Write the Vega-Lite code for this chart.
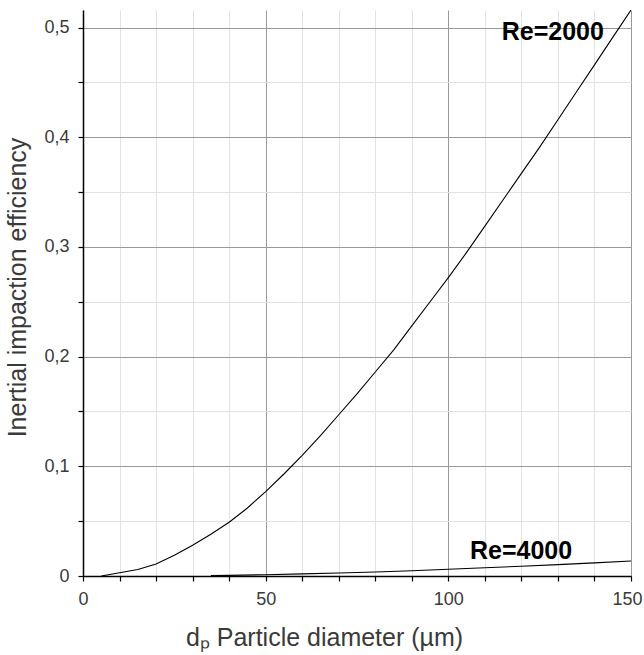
{
  "$schema": "https://vega.github.io/schema/vega-lite/v6.json",
  "autosize": {"type": "none"},
  "width": 548,
  "height": 566,
  "padding": {"left": 83, "top": 10, "right": 13, "bottom": 79},
  "background": "white",
  "config": {
    "view": {"stroke": null},
    "axis": {
      "domainColor": "#000",
      "domainWidth": 1.5,
      "tickColor": "#000",
      "tickSize": 5,
      "tickWidth": 1.2,
      "labelFont": "Liberation Sans",
      "labelFontSize": 18,
      "labelColor": "#3a3a3a",
      "labelOverlap": false,
      "titleFont": "Liberation Sans",
      "titleFontWeight": "normal",
      "titleColor": "#3a3a3a",
      "gridWidth": 1
    }
  },
  "datasets": {
    "curves": [
      {"series": "Re=2000", "d": 5, "eff": 0.0},
      {"series": "Re=2000", "d": 10, "eff": 0.003},
      {"series": "Re=2000", "d": 15, "eff": 0.006},
      {"series": "Re=2000", "d": 20, "eff": 0.011},
      {"series": "Re=2000", "d": 25, "eff": 0.019},
      {"series": "Re=2000", "d": 30, "eff": 0.028},
      {"series": "Re=2000", "d": 35, "eff": 0.038},
      {"series": "Re=2000", "d": 40, "eff": 0.049},
      {"series": "Re=2000", "d": 45, "eff": 0.062},
      {"series": "Re=2000", "d": 50, "eff": 0.077},
      {"series": "Re=2000", "d": 55, "eff": 0.093},
      {"series": "Re=2000", "d": 60, "eff": 0.11},
      {"series": "Re=2000", "d": 65, "eff": 0.128},
      {"series": "Re=2000", "d": 70, "eff": 0.147},
      {"series": "Re=2000", "d": 75, "eff": 0.166},
      {"series": "Re=2000", "d": 80, "eff": 0.186},
      {"series": "Re=2000", "d": 85, "eff": 0.206},
      {"series": "Re=2000", "d": 90, "eff": 0.228},
      {"series": "Re=2000", "d": 95, "eff": 0.25},
      {"series": "Re=2000", "d": 100, "eff": 0.272},
      {"series": "Re=2000", "d": 105, "eff": 0.295},
      {"series": "Re=2000", "d": 110, "eff": 0.319},
      {"series": "Re=2000", "d": 115, "eff": 0.343},
      {"series": "Re=2000", "d": 120, "eff": 0.367},
      {"series": "Re=2000", "d": 125, "eff": 0.391},
      {"series": "Re=2000", "d": 130, "eff": 0.416},
      {"series": "Re=2000", "d": 135, "eff": 0.441},
      {"series": "Re=2000", "d": 140, "eff": 0.466},
      {"series": "Re=2000", "d": 145, "eff": 0.491},
      {"series": "Re=2000", "d": 150, "eff": 0.516},
      {"series": "Re=4000", "d": 35, "eff": 0.0003},
      {"series": "Re=4000", "d": 40, "eff": 0.0006},
      {"series": "Re=4000", "d": 50, "eff": 0.0012},
      {"series": "Re=4000", "d": 60, "eff": 0.0019},
      {"series": "Re=4000", "d": 70, "eff": 0.0027},
      {"series": "Re=4000", "d": 80, "eff": 0.0037},
      {"series": "Re=4000", "d": 90, "eff": 0.0048},
      {"series": "Re=4000", "d": 100, "eff": 0.0062},
      {"series": "Re=4000", "d": 110, "eff": 0.0075},
      {"series": "Re=4000", "d": 120, "eff": 0.0089},
      {"series": "Re=4000", "d": 130, "eff": 0.0104},
      {"series": "Re=4000", "d": 140, "eff": 0.012},
      {"series": "Re=4000", "d": 150, "eff": 0.0137}
    ],
    "labels": [
      {"label": "Re=2000", "d": 128.6, "eff": 0.496},
      {"label": "Re=4000", "d": 119.9, "eff": 0.023}
    ]
  },
  "layer": [
    {
      "data": {"name": "curves"},
      "mark": {"type": "line", "color": "#000", "strokeWidth": 1.1, "clip": true},
      "encoding": {
        "x": {
          "field": "d", "type": "quantitative",
          "scale": {"domain": [0, 150], "nice": false, "zero": false},
          "axis": {
            "values": [0, 10, 20, 30, 40, 50, 60, 70, 80, 90, 100, 110, 120, 130, 140, 150],
            "tickCount": 40,
            "labelExpr": "datum.value % 50 === 0 ? datum.label : ''",
            "labelPadding": 9,
            "labelFlush": false,
            "labelOffset": {"condition": {"test": "datum.value === 150", "value": -4}, "value": 0},
            "grid": true,
            "gridColor": {"condition": {"test": "datum.value % 50 === 0", "value": "#9a9a9a"}, "value": "#e2e2e2"},
            "title": "dₚ  Particle diameter (µm)",
            "titleFontSize": 25,
            "titleX": 241,
            "titleY": 69,
            "titleBaseline": "alphabetic",
            "titleAlign": "center"
          }
        },
        "y": {
          "field": "eff", "type": "quantitative",
          "scale": {"domain": [0, 0.516], "nice": false},
          "axis": {
            "values": [0, 0.05, 0.1, 0.15, 0.2, 0.25, 0.3, 0.35, 0.4, 0.45, 0.5],
            "tickCount": 40,
            "labelExpr": "abs(datum.value * 10 - round(datum.value * 10)) < 0.000001 ? replace(format(datum.value, '.1~f'), '.', ',') : ''",
            "labelPadding": 9,
            "labelFlush": false,
            "grid": true,
            "gridColor": {"condition": {"test": "abs(datum.value * 10 - round(datum.value * 10)) < 0.000001", "value": "#9a9a9a"}, "value": "#e2e2e2"},
            "title": "Inertial  impaction  efficiency",
            "titleFontSize": 25,
            "titleX": -58,
            "titleY": 277,
            "titleAngle": -90,
            "titleBaseline": "alphabetic",
            "titleAlign": "center"
          }
        },
        "detail": {"field": "series"}
      }
    },
    {
      "data": {"name": "labels"},
      "mark": {"type": "text", "font": "Liberation Sans", "fontWeight": "bold", "fontSize": 25, "color": "#000", "align": "center", "baseline": "middle"},
      "encoding": {
        "x": {"field": "d", "type": "quantitative"},
        "y": {"field": "eff", "type": "quantitative"},
        "text": {"field": "label"}
      }
    }
  ]
}
